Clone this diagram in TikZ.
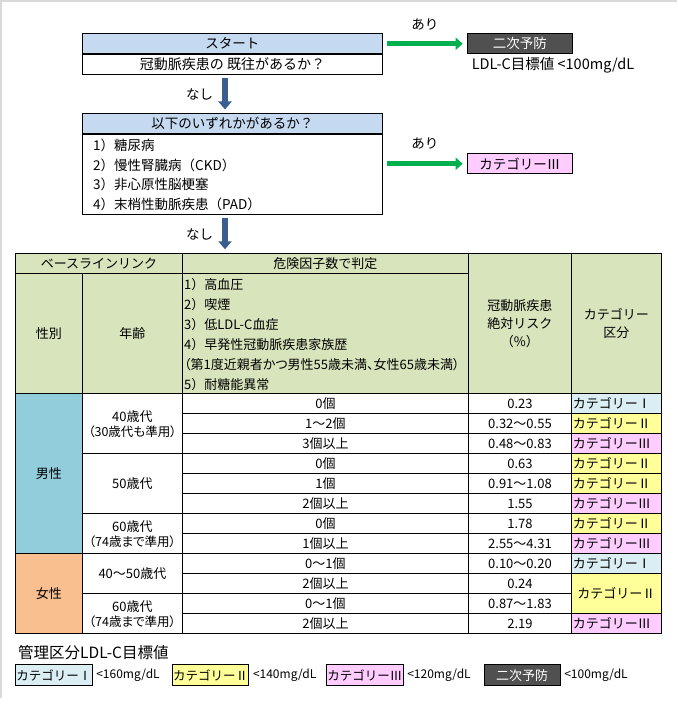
\documentclass[tikz,border=0pt]{standalone}
\usepackage{fontspec}
\setmainfont{Noto Sans CJK JP}
\newfontfamily\paltjp{Noto Sans CJK JP}[RawFeature=+palt]
\usetikzlibrary{arrows.meta}

\definecolor{hdrblue}{HTML}{C5D9F1}
\definecolor{hdrgreen}{HTML}{D8E4BC}
\definecolor{malecol}{HTML}{92CDDC}
\definecolor{femalecol}{HTML}{FABF8F}
\definecolor{catI}{HTML}{DAEEF3}
\definecolor{catII}{HTML}{FFFF99}
\definecolor{catIII}{HTML}{FFCCFF}
\definecolor{nijigray}{HTML}{505050}
\definecolor{arrowgreen}{HTML}{00B050}
\definecolor{arrowblue}{HTML}{3B5E91}
\definecolor{framegray}{HTML}{D9D9D9}

\newcommand{\fsflow}{\fontsize{13.5}{16}\selectfont}
\newcommand{\fstab}{\fontsize{13}{15}\selectfont}
\newcommand{\fsnote}{\paltjp\fontsize{12.5}{15}\selectfont}
\newcommand{\fslegend}{\fontsize{12}{14}\selectfont}

\tikzset{
  flowbox/.style={draw, line width=0.9pt, inner sep=0pt, minimum height=20, anchor=north west, font=\fsflow},
  tabcell/.style={draw, line width=0.9pt, inner sep=0pt, anchor=north west, font=\fstab, align=center},
  catcell/.style={tabcell, inner xsep=1.5pt, text width=87, align=left, minimum height=20},
  legcat/.style={draw, line width=0.9pt, inner xsep=1pt, inner ysep=0pt, text width=74.7, align=left,
    minimum height=20.7, anchor=north west, font=\fontsize{12.5}{14}\selectfont},
  flowgreen/.style={arrowgreen, line width=5pt, -{Triangle[length=7pt,width=12pt]}, shorten <=4.3pt, shorten >=4.3pt},
  flowblue/.style={arrowblue, line width=6pt, -{Triangle[length=8pt,width=13pt]}, shorten <=3pt, shorten >=3.5pt},
  lbl/.style={text=black, inner sep=0pt, font=\fsflow},
}

\begin{document}
\begin{tikzpicture}[x=1pt, y=-1pt]

  \useasboundingbox (0,0) rectangle (677,714);
  \draw[framegray, line width=2.5pt] (1,698) -- (1,1) -- (677,1); % frame

  % Flow chart
  \node[flowbox, fill=hdrblue, minimum width=300] (start) at (82,33.3) {スタート};
  \node[flowbox, minimum width=300, font=\fontsize{14}{16}\selectfont] (history) at (start.south west) {冠動脈疾患の 既往があるか？};
  \node[flowbox, fill=nijigray, text=white, minimum width=104.7] (niji) at (467,33.3) {二次予防};
  \node[inner sep=0pt, font=\fontsize{14.5}{16}\selectfont] (ldltarget) at (553,65) {LDL-C目標値 <100mg/dL};

  \node[flowbox, fill=hdrblue, minimum width=300] (anyof) at (82,113) {以下のいずれかがあるか？};
  \node[flowbox, minimum width=300, minimum height=80] (diseases) at (anyof.south west) {};
  \foreach \t [count=\i] in {1）糖尿病, 2）慢性腎臓病（CKD）, 3）非心原性脳梗塞, 4）末梢性動脈疾患（PAD）}
    \node[anchor=west, inner sep=0pt, font=\fsflow] (disease\i) at (93,126+19.5*\i) {\t};
  \node[flowbox, fill=catIII, minimum width=104.7] (catthree) at (467,153.3) {カテゴリーⅢ};

  % Arrows
  \coordinate (flowx) at (225,0);
  \draw[flowgreen] (start.east) -- (niji.west) node[midway, above=11pt, lbl] (yes1) {あり};
  \draw[flowgreen] (diseases.east |- catthree.west) -- (catthree.west) node[midway, above=12pt, lbl] (yes2) {あり};
  \draw[flowblue] (history.south -| flowx) -- (anyof.north -| flowx) node[midway, left=9pt, lbl] (no1) {なし};

  % Table header
  \node[tabcell, fill=hdrgreen, minimum width=167, minimum height=20] (baseline) at (15,253.3) {ベースラインリンク};
  \node[tabcell, fill=hdrgreen, minimum width=286, minimum height=20] (judge) at (182,253.3) {危険因子数で判定};
  \node[tabcell, fill=hdrgreen, minimum width=103, minimum height=140, font=\fontsize{13}{18}\selectfont] (riskhd) at (468,253.3) {冠動脈疾患\\絶対リスク\\（\%）};
  \node[tabcell, fill=hdrgreen, minimum width=90, minimum height=140, font=\fontsize{13}{18}\selectfont] (cathd) at (571,253.3) {カテゴリー\\区分};
  \node[tabcell, fill=hdrgreen, minimum width=67, minimum height=120] (sexhd) at (15,273.3) {性別};
  \node[tabcell, fill=hdrgreen, minimum width=100, minimum height=120] (agehd) at (82,273.3) {年齢};
  \node[tabcell, fill=hdrgreen, minimum width=286, minimum height=120] (factors) at (182,273.3) {};
  \foreach \t [count=\i] in {1）高血圧, 2）喫煙, 3）低LDL-C血症, 4）早発性冠動脈疾患家族歴, {\paltjp （第1度近親者かつ男性55歳未満、女性65歳未満）}, 5）耐糖能異常}
    \node[anchor=west, inner sep=0pt, font=\fstab] (factor\i) at (184,265+20*\i) {\t};

  \draw[flowblue, shorten >=4pt] (diseases.south -| flowx) -- (judge.north -| flowx) node[midway, left=9pt, lbl] (no2) {なし};

  % Sex and age
  \node[tabcell, fill=malecol, minimum width=67, minimum height=160] (male) at (15,393.3) {男性};
  \node[tabcell, fill=femalecol, minimum width=67, minimum height=80] (female) at (15,553.3) {女性};
  \foreach \y/\h/\t [count=\i] in {393.3/60/{40歳代\\{\fsnote （30歳代も準用）}}, 453.3/60/50歳代,
      513.3/40/{60歳代\\{\fsnote （74歳まで準用）}}, 553.3/40/40～50歳代, 593.3/40/{60歳代\\{\fsnote （74歳まで準用）}}}
    \node[tabcell, minimum width=100, minimum height=\h] (age\i) at (82,\y) {\t};

  % Counts and risks
  \foreach \cnt/\rsk [count=\i from 0] in {0個/0.23, 1～2個/0.32～0.55, 3個以上/0.48～0.83, 0個/0.63, 1個/0.91～1.08,
      2個以上/1.55, 0個/1.78, 1個以上/2.55～4.31, 0～1個/0.10～0.20, 2個以上/0.24, 0～1個/0.87～1.83, 2個以上/2.19} {
    \node[tabcell, minimum width=286, minimum height=20] (count\i) at (182,393.3+20*\i) {\cnt};
    \node[tabcell, minimum width=103, minimum height=20] (risk\i) at (468,393.3+20*\i) {\rsk};
  }

  % Categories
  \foreach \y/\c/\t [count=\i] in {393.3/catI/Ⅰ, 413.3/catII/Ⅱ, 433.3/catIII/Ⅲ, 453.3/catII/Ⅱ, 473.3/catII/Ⅱ,
      493.3/catIII/Ⅲ, 513.3/catII/Ⅱ, 533.3/catIII/Ⅲ, 553.3/catI/Ⅰ, 613.3/catIII/Ⅲ}
    \node[catcell, fill=\c] (cat\i) at (571,\y) {カテゴリー\t};
  \node[tabcell, fill=catII, minimum width=90, minimum height=40] (catmerged) at (571,573.3) {カテゴリーⅡ};

  % Legend
  \node[anchor=west, inner sep=0pt, font=\fontsize{15.5}{17}\selectfont] (legendtitle) at (18,653) {管理区分LDL-C目標値};
  \foreach \x/\c/\t/\val [count=\i] in {15/catI/Ⅰ/160, 171.7/catII/Ⅱ/140, 326/catIII/Ⅲ/120} {
    \node[legcat, fill=\c] (leg\i) at (\x,664.3) {カテゴリー\t};
    \node[anchor=west, inner sep=0pt, font=\fslegend] (legval\i) at ([xshift=3.5pt]leg\i.east) {<\val mg/dL};
  }
  \node[flowbox, fill=nijigray, text=white, minimum width=76, minimum height=20.7, font=\fontsize{13}{15}\selectfont] (leg4) at (483.7,664.3) {二次予防};
  \node[anchor=west, inner sep=0pt, font=\fslegend] (legval4) at ([xshift=3.5pt]leg4.east) {<100mg/dL};

\end{tikzpicture}
\end{document}
